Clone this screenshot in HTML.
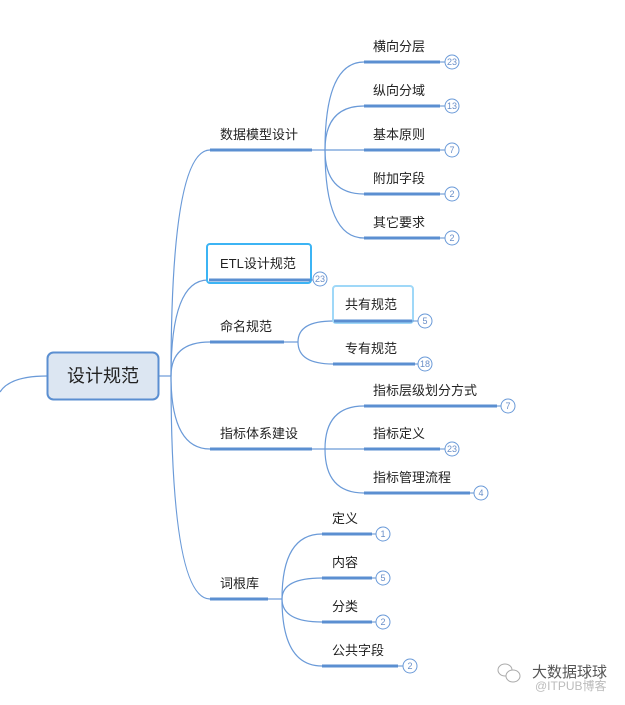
<!DOCTYPE html>
<html><head><meta charset="utf-8"><style>
html,body{margin:0;padding:0;background:#fff;}
svg text{font-family:"Liberation Sans","Noto Sans CJK SC",sans-serif;fill:#222;}
</style></head><body>
<svg width="625" height="700" viewBox="0 0 625 700" xmlns="http://www.w3.org/2000/svg">
<g fill="none" stroke="#6a9ad8" stroke-width="1.2">
<path d="M47 376 Q10 376 0 392"/>
<path d="M158 376 H171"/>
<path d="M171 376 Q171 150 210 150"/>
<path d="M171 376 Q171 280 208 280"/>
<path d="M171 376 Q171 342 210 342"/>
<path d="M171 376 Q171 449 210 449"/>
<path d="M171 376 Q171 599 210 599"/>
<path d="M312 150 H325"/>
<path d="M325 150 Q325 62 364 62"/><path d="M325 150 Q325 106 364 106"/><path d="M325 150 H364"/>
<path d="M325 150 Q325 194 364 194"/><path d="M325 150 Q325 238 364 238"/>
<path d="M284 342 H298"/>
<path d="M298 342 Q298 321 333 321"/><path d="M298 342 Q298 364 333 364"/>
<path d="M312 449 H325"/>
<path d="M325 449 Q325 406 364 406"/><path d="M325 449 H364"/><path d="M325 449 Q325 493 364 493"/>
<path d="M268 599 H282"/>
<path d="M282 599 Q282 534 322 534"/><path d="M282 599 Q282 578 322 578"/><path d="M282 599 Q282 622 322 622"/><path d="M282 599 Q282 666 322 666"/>
</g>
<rect x="47.5" y="352.5" width="111" height="47" rx="6" fill="#dce6f2" stroke="#5b8fd1" stroke-width="2"/>
<text x="103" y="382" font-size="18" text-anchor="middle">设计规范</text>
<rect x="207" y="244" width="104" height="39" rx="3" fill="#fff" stroke="#3cb4f4" stroke-width="2"/>
<rect x="333" y="286" width="80" height="37" rx="3" fill="#fff" stroke="#9fd8f8" stroke-width="2"/>
<g stroke="#5b8fd1" stroke-width="3">
<path d="M210 150 H312"/><path d="M209 280 H310"/><path d="M210 342 H284"/><path d="M210 449 H312"/><path d="M210 599 H268"/>
<path d="M364 62 H440"/><path d="M364 106 H440"/><path d="M364 150 H440"/><path d="M364 194 H440"/><path d="M364 238 H440"/>
<path d="M334 321 H412"/><path d="M333 364 H415"/>
<path d="M364 406 H497"/><path d="M364 449 H440"/><path d="M364 493 H470"/>
<path d="M322 534 H372"/><path d="M322 578 H372"/><path d="M322 622 H372"/><path d="M322 666 H398"/>
</g>
<g stroke="#5b8fd1" stroke-width="1">
<path d="M440 62H445M440 106H445M440 150H445M440 194H445M440 238H445M412 321H418M415 364H418M497 406H501M440 449H445M470 493H474M372 534H376M372 578H376M372 622H376M398 666H403M310 280H313"/>
</g>
<g font-size="13">
<text x="220" y="139">数据模型设计</text>
<text x="220" y="268">ETL设计规范</text>
<text x="220" y="331">命名规范</text>
<text x="220" y="438">指标体系建设</text>
<text x="220" y="588">词根库</text>
<text x="373" y="51">横向分层</text><text x="373" y="95">纵向分域</text><text x="373" y="139">基本原则</text>
<text x="373" y="183">附加字段</text><text x="373" y="227">其它要求</text>
<text x="345" y="309">共有规范</text><text x="345" y="353">专有规范</text>
<text x="373" y="395">指标层级划分方式</text><text x="373" y="438">指标定义</text><text x="373" y="482">指标管理流程</text>
<text x="332" y="523">定义</text><text x="332" y="567">内容</text><text x="332" y="611">分类</text><text x="332" y="655">公共字段</text>
</g>
<g fill="#fff" stroke="#6a9ad8" stroke-width="1">
<circle cx="452" cy="62" r="7"/><circle cx="452" cy="106" r="7"/><circle cx="452" cy="150" r="7"/><circle cx="452" cy="194" r="7"/><circle cx="452" cy="238" r="7"/>
<circle cx="320" cy="279" r="7"/><circle cx="425" cy="321" r="7"/><circle cx="425" cy="364" r="7"/>
<circle cx="508" cy="406" r="7"/><circle cx="452" cy="449" r="7"/><circle cx="481" cy="493" r="7"/>
<circle cx="383" cy="534" r="7"/><circle cx="383" cy="578" r="7"/><circle cx="383" cy="622" r="7"/><circle cx="410" cy="666" r="7"/>
</g>
<g font-size="9" text-anchor="middle" style="fill:#6a8fc8">
<text x="452" y="65" style="fill:#6a8fc8">23</text><text x="452" y="109" style="fill:#6a8fc8">13</text><text x="452" y="153" style="fill:#6a8fc8">7</text><text x="452" y="197" style="fill:#6a8fc8">2</text><text x="452" y="241" style="fill:#6a8fc8">2</text>
<text x="320" y="282" style="fill:#6a8fc8">23</text><text x="425" y="324" style="fill:#6a8fc8">5</text><text x="425" y="367" style="fill:#6a8fc8">18</text>
<text x="508" y="409" style="fill:#6a8fc8">7</text><text x="452" y="452" style="fill:#6a8fc8">23</text><text x="481" y="496" style="fill:#6a8fc8">4</text>
<text x="383" y="537" style="fill:#6a8fc8">1</text><text x="383" y="581" style="fill:#6a8fc8">5</text><text x="383" y="625" style="fill:#6a8fc8">2</text><text x="410" y="669" style="fill:#6a8fc8">2</text>
</g>
<g fill="none" stroke="#aaa" stroke-width="1">
<ellipse cx="505" cy="670" rx="7" ry="6"/><ellipse cx="513" cy="676" rx="7" ry="6" fill="#fff"/>
</g>
<text x="532" y="677" font-size="15" style="fill:#555">大数据球球</text>
<text x="535" y="690" font-size="12" style="fill:#bbb">@ITPUB博客</text>
</svg>
</body></html>
